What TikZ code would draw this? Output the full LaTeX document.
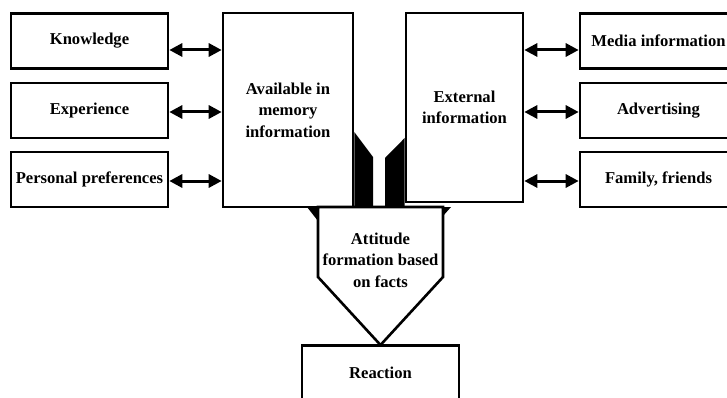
\documentclass[tikz,border=0pt]{standalone}
\usepackage{fontspec}
\setmainfont{Liberation Serif}
\usetikzlibrary{arrows.meta}

\begin{document}
\begin{tikzpicture}[x=1pt, y=-1pt,
    box/.style={draw=black, line width=2.6pt, fill=white, minimum width=157pt, minimum height=55pt,
      inner sep=0pt, align=center, font=\fontsize{16.6}{21.5}\selectfont\bfseries},
    txt/.style={align=center, inner sep=0pt, font=\fontsize{16.6}{21.5}\selectfont\bfseries},
    dbl/.style={line width=3pt, {Triangle[length=13pt,width=13pt]}-{Triangle[length=13pt,width=13pt]}},
    wall/.style={fill=black, draw=none}]

    \useasboundingbox (0,0) rectangle (727,398);

    % --- rows for the arrows ---
    \coordinate (row1) at (0,50);
    \coordinate (row2) at (0,112);
    \coordinate (row3) at (0,181);

    % --- left column ---
    \node[box] (know) at (89.5,41) {Knowledge};
    \node[box] (exper) at (89.5,110.5) {Experience};
    \node[box] (pref) at (89.5,179.5) {Personal preferences};

    % --- right column ---
    \node[box] (media) at (658.5,41) {Media information};
    \node[box] (advert) at (658.5,110.5) {Advertising};
    \node[box] (family) at (658.5,179.5) {Family, friends};

    % --- the two sources ---
    \node[box, minimum width=130pt, minimum height=194pt] (mem) at (288,110) {Available in\\memory\\information};
    \node[box, minimum width=117pt, minimum height=189pt] (ext) at (464.5,107.5) {External\\information};

    % --- funnel walls ---
    \fill[wall] (mem.east |- 0,132) -- (373,157) -- (373,207) -- (mem.east |- 0,207) -- cycle;
    \fill[wall] (ext.west |- 0,138) -- (385,158) -- (385,207) -- (ext.west |- 0,207) -- cycle;
    \fill[wall] (307,207) -- (318,207) -- (318,221) -- cycle;
    \fill[wall] (443,207) -- (451,207) -- (443,216) -- cycle;

    % --- attitude ---
    \draw[line width=2.6pt, fill=white] (318,207) -- (443,207) -- (443,277) -- (380.5,345) -- (318,277) -- cycle;
    \node[txt] (att) at (380.5,260) {Attitude\\formation based\\on facts};

    % --- reaction ---
    \node[box] (react) at (380.5,373) {Reaction};

    % --- arrows ---
    \draw[dbl] (know.east |- row1) -- (mem.west |- row1);
    \draw[dbl] (exper.east |- row2) -- (mem.west |- row2);
    \draw[dbl] (pref.east |- row3) -- (mem.west |- row3);
    \draw[dbl] (ext.east |- row1) -- (media.west |- row1);
    \draw[dbl] (ext.east |- row2) -- (advert.west |- row2);
    \draw[dbl] (ext.east |- row3) -- (family.west |- row3);

\end{tikzpicture}
\end{document}
